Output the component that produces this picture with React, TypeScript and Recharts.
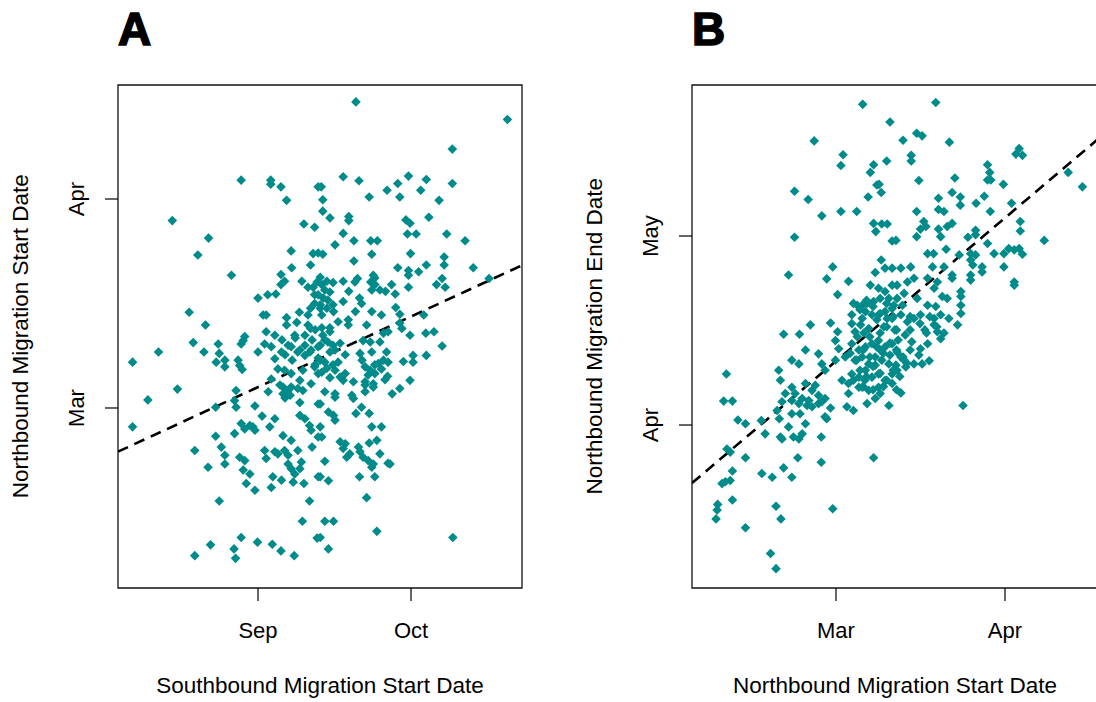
import { ScatterChart, Scatter, XAxis, YAxis, ReferenceLine, ReferenceArea } from "recharts";

const TEAL = "#008b8b";
const FONT = '"Liberation Sans", Arial, Helvetica, sans-serif';

// Panel A: southbound start (days from Sep 1) vs northbound start (days from Mar 1)
const migrationA: [number, number][] = [
  [-3.3,33.8],[2.5,33.8],[2.5,33.2],[4.5,32.8],[5.6,30.8],[11.8,32.8],[-16.8,27.8],[9.0,27.3],[11.1,26.8],[-9.7,25.2],
  [-11.8,22.7],[6.5,23.3],[10.8,22.9],[11.8,23.0],[10.3,21.2],[6.6,20.8],[-5.2,19.7],[4.5,19.8],[5.2,18.8],[4.5,18.3],
  [8.6,18.8],[9.8,17.9],[10.8,17.9],[0,16.3],[1.9,16.8],[3.5,16.9],[11.1,16.8],[11.1,15.5],[10.3,14.8],[9.8,13.8],
  [-13.5,14.2],[1.0,13.8],[1.6,13.8],[5.6,13.4],[5.6,12.3],[8.1,14.2],[7.6,12.7],[-10.3,12.3],[10.3,11.8],[1.6,11.3],
  [3.3,10.8],[-2.6,10.6],[7.2,10.8],[9.2,10.8],
  [19.2,45.4],[48.9,42.8],[38.1,38.4],[16.7,34.3],[19.8,33.7],[29.5,34.4],[27.4,33.3],[33.0,33.9],[38.1,33.3],[25.3,32.3],
  [31.9,32.3],[27.8,31.3],[21.8,31.3],[12.4,32.8],[12.7,30.9],[12.7,29.2],[35.5,30.8],[14.1,28.2],[17.8,28.4],[17.8,27.8],
  [33.5,28.3],[29.0,27.9],[29.8,27.4],[16.7,25.9],[29.3,25.8],[31.0,25.8],[37.0,25.8],[18.8,24.8],[22.1,24.8],[23.4,24.8],
  [40.6,24.8],[15.1,24.2],[12.7,22.8],[22.3,22.8],[29.9,22.9],[18.8,21.8],[36.5,22.4],[36.5,21.2],[33.0,21.2],[27.4,20.8],
  [29.5,20.4],[29.5,19.7],[31.5,20.2],[42.2,20.8],[45.3,19.2],[36.1,19.2],[35.0,18.3],[36.7,17.9],[12.2,19.4],[13.5,18.8],
  [14.7,18.6],[16.7,18.8],[19.5,19.2],[19.0,18.7],[22.6,19.7],[22.1,18.7],[22.9,18.3],[22.3,17.5],[26.2,18.3],[29.5,17.9],
  [25.0,17.3],[26.9,16.9],[17.8,17.3],[19.9,16.3],[20.3,15.5],[16.7,15.8],[12.8,16.3],[12.2,15.3],[13.5,14.8],[14.8,14.3],
  [22.3,14.3],[24.2,13.8],[27.0,14.9],[27.8,13.9],[32.5,13.8],[19.1,14.3],[15.7,12.8],[17.7,13.1],[17.7,12.3],[21.3,12.3],
  [27.8,12.6],[28.2,11.8],[12.5,11.9],[14.1,11.3],[25.5,11.3],[24.6,11.1],[32.9,11.1],[34.5,11.3],[29.8,10.8],
  [36.1,9.2],[33.0,7.8],[30.4,7.8],[30.4,6.8],[28.5,6.9],[13.1,10.1],[14.7,9.3],[16.1,9.6],[14.1,8.3],[17.1,7.9],
  [12.2,7.1],[15.7,6.8],[13.5,5.9],[20.6,10.0],[22.0,9.8],[23.9,9.8],[22.3,8.3],[20.0,8.1],[25.2,8.3],[24.6,7.1],
  [23.6,6.6],[25.5,6.8],[21.0,6.1],[22.0,5.6],[22.9,5.1],[24.2,5.8],[25.4,4.7],[15.1,5.6],[16.1,4.6],[17.1,5.1],
  [16.7,4.1],[18.7,3.9],[21.0,3.9],[22.6,3.6],[22.6,3.1],[29.8,4.1],[27.8,2.9],[26.3,2.1],[13.1,2.4],[15.1,2.1],
  [15.1,1.6],[21.0,2.4],[18.4,1.9],[18.7,1.4],[12.2,0.6],[20.3,0.1],[19.2,-0.8],[21.8,-0.8],[13.8,-0.6],[14.8,-1.1],
  [15.1,-1.8],[22.3,-2.8],[24.2,-2.8],[12.2,-2.8],[12.5,-4.3],[16.1,-5.0],[17.1,-5.3],[16.7,-6.0],[21.8,-5.2],[23.3,-4.8],
  [19.7,-5.8],[18.0,-6.8],[17.4,-7.3],[20.0,-6.5],[20.6,-7.3],[21.6,-7.8],[22.3,-8.8],[22.6,-8.3],[23.9,-6.8],[25.5,-8.2],
  [25.9,-8.3],[13.1,-7.9],[12.2,-10.2],[13.8,-10.8],[19.9,-10.2],[22.9,-10.2],[21.3,-13.3],[13.1,-16.8],[14.8,-16.8],[23.3,-18.3],
  [12.2,-19.2],[38.2,-19.2],[13.8,-20.9],
  [-12.7,9.7],[-10.6,8.3],[-19.5,8.3],[-24.6,6.8],[-7.8,9.5],[-7.6,8.1],[-6.5,7.1],[-6.5,6.1],[-8.2,6.8],[-3.9,7.1],
  [-3.6,6.3],[-3.1,5.7],[-2.9,10.0],[-3.3,9.5],[0,8.3],[1.3,9.5],[2.6,9.1],[3.3,7.3],[4.6,8.3],[6.5,9.1],
  [7.8,8.3],[9.2,7.8],[10.4,8.6],[11.8,9.1],[3.9,5.8],[5.2,5.6],[6.5,5.1],[8.2,4.1],[8.8,5.6],[11.1,6.1],
  [2.6,4.3],[2.0,2.4],[4.9,3.1],[5.9,2.6],[6.5,3.1],[7.8,2.9],[8.8,2.6],[4.9,2.1],[10.4,3.6],[11.8,5.1],
  [-15.8,2.8],[-21.6,1.2],[-24.6,-2.8],[-4.3,2.6],[-4.6,1.1],[-4.3,0.1],[-8.3,0.1],[-0.6,0.3],[0.8,-1.2],[8.2,0.8],
  [11.8,0.6],[3.3,-1.6],[2.3,-2.8],[8.2,-1.1],[9.2,-1.6],[10.1,-2.6],[10.4,-3.3],[-3.3,-2.3],[-2.6,-3.1],[-1.6,-2.6],
  [-1.0,-2.8],[-0.6,-3.3],[-4.6,-3.8],[-8.3,-4.2],[4.9,-4.1],[6.5,-4.8],[11.8,-4.3],[10.6,-5.8],[-12.4,-6.3],[-7.2,-5.8],
  [-6.5,-7.0],[-6.5,-8.3],[1.3,-6.3],[1.6,-7.5],[3.3,-6.5],[3.9,-6.8],[5.2,-6.3],[5.9,-7.0],[7.8,-6.3],[-3.6,-7.3],
  [-2.6,-7.8],[-2.9,-9.2],[-9.8,-8.8],[-1.6,-9.8],[-2.3,-11.2],[-0.6,-12.2],[5.9,-8.3],[6.5,-9.0],[7.2,-9.8],[8.2,-9.0],
  [8.5,-8.0],[2.9,-10.2],[4.6,-10.7],[6.9,-11.0],[2.6,-11.8],[9.0,-11.2],[11.8,-10.2],[-7.6,-13.8],[10.1,-13.8],[8.7,-16.8],
  [11.6,-19.3],[-3.3,-19.2],[-0.1,-19.9],[2.8,-20.2],[4.5,-21.2],[7.1,-21.9],[-9.3,-20.3],[-4.7,-20.9],[-4.4,-22.3],[-12.4,-21.9],
  [11.6,18.7],[12.5,18.3],[13.1,17.5],[11.8,16.8],[14.1,17.2],[13.7,16.0],[12.2,14.8],[14.7,15.3],[12.5,13.8],[9.8,12.3],
  [11.2,11.6],[12.7,10.8],[14.1,11.9],[10.6,10.1],[12.2,9.3],[13.7,9.8],[15.1,8.6],[10.2,8.3],[11.8,7.4],[13.1,6.8],
  [14.7,6.4],[9.2,9.3],[11.2,6.4],[4.7,10.1],[5.9,9.3],[7.3,10.4],[8.2,8.6],[5.3,7.9],[6.7,7.1],[20.4,7.1],
  [21.6,4.9],[22.9,6.4],[24.9,4.2],[21.0,3.4],[4.3,3.4],[6.3,1.9],[5.3,1.5],[22.9,19.3],[23.9,17.5],[12.5,5.3],[14.1,4.5],
];

// Panel B: northbound start (days from Mar 1) vs northbound end (days from Apr 1)
const migrationB: [number, number][] = [
  [4.9,50.9],[9.9,48.1],[-4.0,45.1],[1.3,42.9],[0.9,41.2],[9.3,41.9],[6.9,41.3],[6.3,40.1],[7.5,38.1],[7.9,38.2],
  [8.3,36.9],[5.9,36.2],[-7.6,37.1],[-5.1,35.8],[-2.6,33.2],[0.9,33.9],[3.8,33.9],[6.9,32.0],[7.3,30.7],[8.4,31.9],
  [9.4,31.9],[10.3,29.2],[-7.6,29.8],[-8.7,23.8],[-0.6,25.1],[-1.7,23.2],[2.3,22.8],[0.3,20.7],[8.3,26.2],[9.0,24.9],
  [10.3,24.9],[7.2,24.2],[6.3,22.2],[7.8,21.7],[9.0,21.2],[10.3,22.2],[9.7,20.1],[8.1,20.1],[6.9,19.6],[5.7,19.3],
  [4.8,19.0],[3.9,19.0],[5.4,18.0],[6.6,17.5],[7.8,17.5],[9.0,18.0],[10.3,18.5],[2.9,17.5],[4.8,16.9],[7.5,16.7],
  [9.4,16.9],[10.3,16.9],[2.9,16.1],[4.5,15.9],[6.0,15.3],[8.8,15.6],[-4.7,15.9],[-1.0,16.2],[0.3,14.8],[-9.6,14.4],
  [-6.7,14.4],[3.5,14.8],[5.1,14.6],
  [18.3,51.2],[14.8,46.3],[15.8,45.9],[12.3,45.2],[20.8,44.9],[13.8,42.8],[13.8,41.9],[33.6,43.9],[33.0,43.0],[34.2,42.8],
  [27.8,41.3],[28.2,40.1],[27.8,38.9],[28.4,38.9],[15.2,38.8],[21.8,39.2],[30.7,38.2],[42.6,40.1],[45.2,37.8],[21.3,36.9],
  [22.8,36.2],[22.8,34.9],[18.8,36.0],[18.8,34.2],[19.8,33.9],[14.8,33.9],[27.2,36.3],[25.7,35.2],[28.3,33.9],[32.2,35.2],
  [16.1,32.3],[16.5,31.5],[15.5,31.1],[21.3,32.0],[20.4,31.5],[18.8,31.1],[19.2,29.9],[14.8,29.9],[25.6,30.9],[25.6,30.2],
  [24.2,29.8],[27.8,28.8],[33.8,32.3],[33.8,30.8],[38.2,29.3],[11.0,29.3],[20.2,27.9],[16.8,27.2],[17.9,27.2],[22.6,27.0],
  [24.7,27.2],[25.6,27.0],[24.7,26.2],[29.0,27.2],[30.8,27.2],[31.7,28.0],[32.7,27.8],[33.6,28.0],[34.2,27.1],[30.8,25.1],
  [32.7,22.7],[32.7,22.2],[17.7,25.1],[19.8,25.1],[21.3,23.8],[21.3,23.3],[25.1,25.4],[26.8,25.1],[26.8,24.3],[24.7,23.8],
  [24.7,23.0],[11.9,24.9],[13.7,25.1],[14.3,23.3],[13.1,22.7],[11.2,22.2],[16.8,23.3],[18.6,22.7],[18.0,21.7],[19.5,20.4],
  [20.4,20.1],[22.9,21.2],[22.9,20.4],[22.9,19.0],[16.8,19.0],[18.3,18.8],[14.9,20.1],[12.5,20.9],[11.2,20.1],[10.6,19.0],
  [12.2,19.0],[22.9,17.7],[22.3,15.9],[20.7,16.9],[19.2,17.5],[18.0,16.9],[18.0,15.9],[18.6,14.8],[19.8,14.6],[14.3,16.9],
  [13.1,16.4],[11.9,17.5],[15.5,17.5],
  [-20.1,8.1],[-20.6,3.8],[-19.0,3.8],[-18.0,0.8],[-16.6,0.2],[-20.0,-3.8],[-19.4,-4.3],[-16.6,-5.2],[-19.0,-7.3],[-20.9,-9.3],
  [-20.3,-9.0],[-19.4,-8.8],[-19.0,-11.9],[-21.7,-12.6],[-21.8,-13.5],[-22.0,-14.9],[-16.6,-16.3],[-13.6,-7.7],[-11.7,-8.3],[-9.6,-6.8],
  [-8.1,-8.3],[-11.0,-12.9],[-10.1,-14.9],[-12.0,-20.4],[-11.0,-22.8],[-7.0,-5.2],[-2.7,-5.9],[-0.6,-13.3],[6.9,-5.2],[-13.7,0.7],
  [-13.0,-1.4],[-10.4,1.0],[-10.2,-1.9],[-9.9,-2.2],[-8.7,-0.3],[-7.8,-1.9],[-6.8,-2.2],[-6.2,-1.4],[-5.6,0.2],[-8.1,1.8],
  [-6.6,1.8],[-2.7,-1.9],[-2.0,1.3],[-1.7,1.0],[-1.0,2.7],[-10.5,8.7],[-10.2,7.1],[-8.1,10.3],[-6.8,9.7],[-5.6,11.9],
  [-8.1,6.0],[-9.3,5.0],[-7.5,5.0],[-6.2,4.2],[-5.0,3.9],[-4.4,5.5],[-3.2,4.7],[-2.6,3.7],[-6.8,3.4],[-5.3,3.1],
  [-4.4,2.9],[-3.2,3.4],[-2.0,4.2],[-9.9,3.7],[-8.1,3.9],[-10.8,2.3],[-3.2,11.3],[-2.6,9.7],[-2.0,8.7],[-0.1,10.3],
  [0.5,12.1],[-0.1,13.4],[1.1,7.1],[2.3,5.0],[2.0,2.9],[3.2,2.3],[4.8,6.0],[5.7,3.4],[7.2,4.2],[8.1,5.0],
  [9.7,3.1],[-5.6,6.6],[-3.8,6.3],[2.9,12.9],[4.2,11.9],[5.4,12.4],[6.6,12.9],[7.8,13.4],[9.0,12.4],[10.3,12.9],
  [3.5,10.3],[4.8,10.8],[6.0,9.7],[7.2,10.8],[8.4,10.3],[9.7,9.7],[10.3,8.1],[2.9,8.1],[4.2,7.6],[5.4,8.7],
  [6.6,7.6],[7.8,8.1],[9.0,7.1],[10.3,6.6],[2.3,6.6],[4.2,6.0],[6.0,5.5],[7.8,6.0],
  [19.2,13.7],[16.8,12.9],[15.5,12.1],[15.2,11.1],[15.8,9.7],[17.1,10.2],[14.3,9.7],[12.8,9.2],[11.2,11.6],[11.9,10.8],
  [11.0,9.5],[11.2,8.7],[12.5,10.3],[11.9,5.1],[23.3,3.1],
  [10.8,15.1],[12.7,14.3],[13.9,13.2],[9.9,11.1],[7.2,9.5],[5.3,7.1],[8.1,11.9],[11.4,13.5],[13.6,15.1],[16.3,15.1],[3.9,14.0],[1.7,10.8],
  [2.6,11.4],[3.8,10.3],[5.0,11.9],[6.2,10.8],[7.5,12.4],[8.7,11.4],[9.9,13.0],[11.1,11.9],[12.3,10.8],[4.4,8.7],
  [5.6,7.7],[6.8,9.3],[8.1,8.2],[9.3,7.1],[10.5,8.7],[11.7,7.7],[3.2,7.1],[5.0,6.1],[6.8,5.6],[8.7,6.1],
  [11.1,5.6],[13.0,9.8],[13.6,11.9],[6.2,14.0],[8.1,14.6],[9.3,15.6],[11.1,15.1],[3.2,19.3],[4.4,18.3],[5.6,19.8],
  [6.8,18.8],[8.1,17.7],[9.3,19.3],[10.5,17.2],[13.6,17.2],[15.4,16.1],[17.2,17.2],[18.5,15.6],[16.6,14.6],
];

// axis ticks (day offsets) and their month labels
const ticksAx = [0, 30];
const labelsAx = ["Sep", "Oct"];
const ticksAy = [0, 31];
const labelsAy = ["Mar", "Apr"];
const ticksBx = [0, 31];
const labelsBx = ["Mar", "Apr"];
const ticksBy = [0, 30];
const labelsBy = ["Apr", "May"];

// least squares fits: [intercept, slope]
const fitA = [3.1, 0.349];
const fitB = [10.15, 0.733];

const Diamond = (p: any) => {
  const { cx, cy } = p;
  const r = 4.8;
  return <path d={`M${cx},${cy - r}L${cx + r},${cy}L${cx},${cy + r}L${cx - r},${cy}Z`} fill={TEAL} />;
};

type PanelProps = {
  letter: string;
  left: number;
  plotW: number;
  data: [number, number][];
  xDomain: [number, number];
  yDomain: [number, number];
  xTicks: number[];
  xLabels: string[];
  yTicks: number[];
  yLabels: string[];
  fit: number[];
  xTitle: string;
  yTitle: string;
};

function Panel(props: PanelProps) {
  const { letter, left, plotW, data, xDomain, yDomain, xTicks, xLabels, yTicks, yLabels, fit, xTitle, yTitle } = props;
  const W = 560;
  const H = 702;
  const plotL = 118;
  const points = data.map(([x, y]) => ({ x, y }));
  const fmt = (ticks: number[], labels: string[]) => (v: number) => labels[ticks.indexOf(v)] ?? "";
  const yLab = fmt(yTicks, yLabels);
  const YTick = (p: any) => {
    const bx = p.x - 21;
    return (
      <text x={bx} y={p.y} transform={`rotate(-90 ${bx} ${p.y})`} textAnchor="middle" fontSize={22} fontFamily={FONT} fill="#000">
        {yLab(p.payload.value)}
      </text>
    );
  };
  const [x0, x1] = xDomain;
  return (
    <div style={{ position: "absolute", left, top: 0, width: W, height: H }}>
      <ScatterChart width={W} height={H} margin={{ top: 85, right: W - plotL - plotW, bottom: 74, left: plotL - 40 }}>
        <XAxis
          type="number"
          dataKey="x"
          domain={xDomain}
          allowDataOverflow
          ticks={xTicks}
          tickFormatter={fmt(xTicks, xLabels)}
          axisLine={false}
          tickLine={{ stroke: "#000", strokeWidth: 1.2 }}
          tickSize={13}
          tickMargin={21}
          height={40}
          tick={{ fontSize: 22, fill: "#000", fontFamily: FONT }}
        />
        <YAxis
          type="number"
          dataKey="y"
          domain={yDomain}
          allowDataOverflow
          ticks={yTicks}
          axisLine={false}
          tickLine={{ stroke: "#000", strokeWidth: 1.2 }}
          tickSize={13}
          tickMargin={0}
          width={40}
          tick={YTick}
        />
        <ReferenceArea x1={x0} x2={x1} y1={yDomain[0]} y2={yDomain[1]} fill="none" stroke="#111" strokeWidth={1.3} ifOverflow="visible" />
        <Scatter data={points} shape={Diamond} isAnimationActive={false} />
        <ReferenceLine
          segment={[{ x: x0, y: fit[0] + fit[1] * x0 }, { x: x1, y: fit[0] + fit[1] * x1 }]}
          stroke="#000"
          strokeWidth={2.6}
          strokeDasharray="11 7"
          ifOverflow="hidden"
        />
      </ScatterChart>
      <div style={{ position: "absolute", left: 118, top: 6, fontFamily: FONT, fontSize: 46, fontWeight: 700, lineHeight: 1, WebkitTextStroke: "1.6px #000" }}>
        {letter}
      </div>
      <div style={{ position: "absolute", left: plotL, width: plotW, top: 675, textAlign: "center", fontFamily: FONT, fontSize: 22.5, lineHeight: 1, whiteSpace: "nowrap" }}>
        {xTitle}
      </div>
      <div
        style={{
          position: "absolute",
          left: 20.5 - 250,
          top: 336.5 - 11.25,
          width: 500,
          height: 22.5,
          textAlign: "center",
          fontFamily: FONT,
          fontSize: 22.5,
          lineHeight: 1,
          whiteSpace: "nowrap",
          transform: "rotate(-90deg)",
        }}
      >
        {yTitle}
      </div>
    </div>
  );
}

export default function App() {
  return (
    <div style={{ position: "fixed", left: 0, top: 0, width: 1096, height: 702, overflow: "hidden", background: "#fff" }}>
      <Panel
        letter="A"
        left={0}
        plotW={404}
        data={migrationA}
        xDomain={[-27.45, 51.76]}
        yDomain={[-26.7, 47.91]}
        xTicks={ticksAx}
        xLabels={labelsAx}
        yTicks={ticksAy}
        yLabels={labelsAy}
        fit={fitA}
        xTitle="Southbound Migration Start Date"
        yTitle="Northbound Migration Start Date"
      />
      <Panel
        letter="B"
        left={574}
        plotW={406}
        data={migrationB}
        xDomain={[-26.41, 48.06]}
        yDomain={[-25.87, 53.97]}
        xTicks={ticksBx}
        xLabels={labelsBx}
        yTicks={ticksBy}
        yLabels={labelsBy}
        fit={fitB}
        xTitle="Northbound Migration Start Date"
        yTitle="Northbound Migration End Date"
      />
    </div>
  );
}
